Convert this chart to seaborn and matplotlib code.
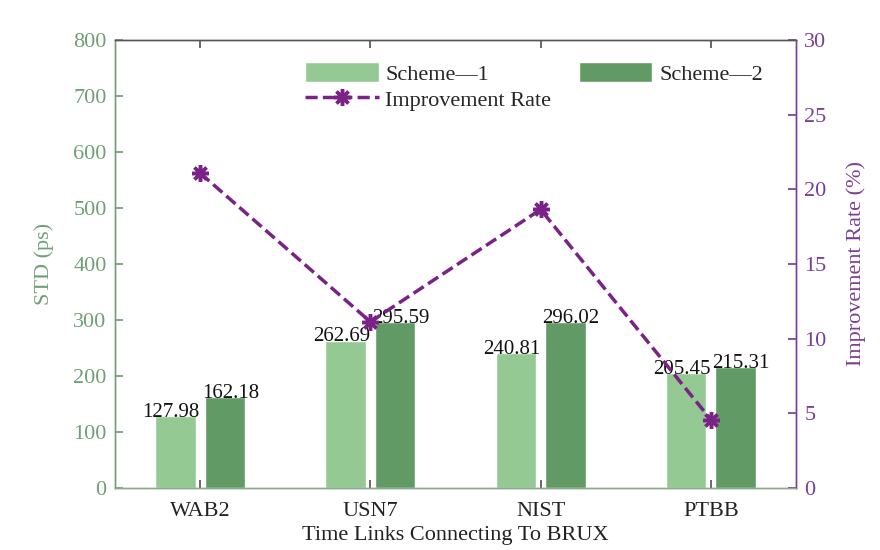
import matplotlib
matplotlib.use("Agg")
import matplotlib.pyplot as plt
import seaborn as sns
import pandas as pd
import numpy as np

# Data
links = ["WAB2", "USN7", "NIST", "PTBB"]
scheme1 = [127.98, 262.69, 240.81, 205.45]
scheme2 = [162.18, 295.59, 296.02, 215.31]
improvement = [21.09, 11.13, 18.65, 4.58]

c_s1 = "#95c994"
c_s2 = "#629a65"
c_left = "#6f9f74"
c_right = "#7b3f8f"
c_line = "#7a2286"
fs = 16

sns.set_theme(style="white")
plt.rcParams["font.family"] = ["Liberation Serif", "DejaVu Serif"]

df = pd.DataFrame({
    "link": links * 2,
    "std": scheme1 + scheme2,
    "scheme": ["Scheme\u20141"] * len(links) + ["Scheme\u20142"] * len(links),
})

fig = plt.figure(figsize=(8.8, 5.5), dpi=100)
ax = fig.add_axes([0.1307, 0.1127, 0.7738, 0.8146])

sns.barplot(data=df, x="link", y="std", hue="scheme", ax=ax,
            palette=[c_s1, c_s2], width=0.58, gap=0.18, saturation=1,
            legend=True)
# value labels, nudged slightly apart like the original
for cont, dx in zip(ax.containers, [-3, 4]):
    labels = ax.bar_label(cont, fmt="%.2f", padding=-4, fontsize=15,
                          color="#111111")
    for t in labels:
        t.xyann = (dx, t.xyann[1])

ax.set_ylim(0, 800)
ax.set_yticks(np.arange(0, 801, 100))
ax.set_xlim(-0.5, 3.5)
ax.set_xlabel("Time Links Connecting To BRUX", fontsize=fs, color="#222222",
              labelpad=4)
ax.set_ylabel("STD (ps)", fontsize=fs, color=c_left, labelpad=14)
ax.tick_params(axis="y", colors=c_left, labelsize=fs, direction="in",
               length=6, left=True, pad=6)
ax.tick_params(axis="x", labelsize=fs, direction="in", length=6,
               bottom=True, top=True, colors="#555555", labelcolor="#222222",
               pad=10)

ax2 = ax.twinx()
ax2.plot(np.arange(len(links)), improvement, color=c_line,
         linestyle="--", dashes=(3.5, 1.5), linewidth=2.5, marker=(8, 2, 0),
         markersize=12, markeredgewidth=2.5, markeredgecolor=c_line,
         label="Improvement Rate")
ax2.set_ylim(0, 30)
ax2.set_yticks(np.arange(0, 31, 5))
ax2.set_ylabel("Improvement Rate (%)", fontsize=fs, color=c_right,
               labelpad=14)
ax2.tick_params(axis="y", colors=c_right, labelsize=fs, direction="in",
                length=6, right=True, pad=6)

for a in (ax, ax2):
    for s in a.spines.values():
        s.set_linewidth(1.0)
    a.spines["left"].set_color(c_left)
    a.spines["right"].set_color(c_right)
    a.spines["top"].set_color("#555555")
    a.spines["bottom"].set_color("#8aa88a")

h1, l1 = ax.get_legend_handles_labels()
h2, l2 = ax2.get_legend_handles_labels()
ax.get_legend().remove()
ax2.legend([h1[0], h2[0], h1[1]], [l1[0], l2[0], l1[1]], ncol=2,
           loc="upper left", bbox_to_anchor=(0.25, 0.995), frameon=False,
           fontsize=fs, handlelength=3.3, handleheight=1.0, columnspacing=1.25,
           handletextpad=0.3, labelspacing=0.15)

fig.savefig("out.png", dpi=100)
